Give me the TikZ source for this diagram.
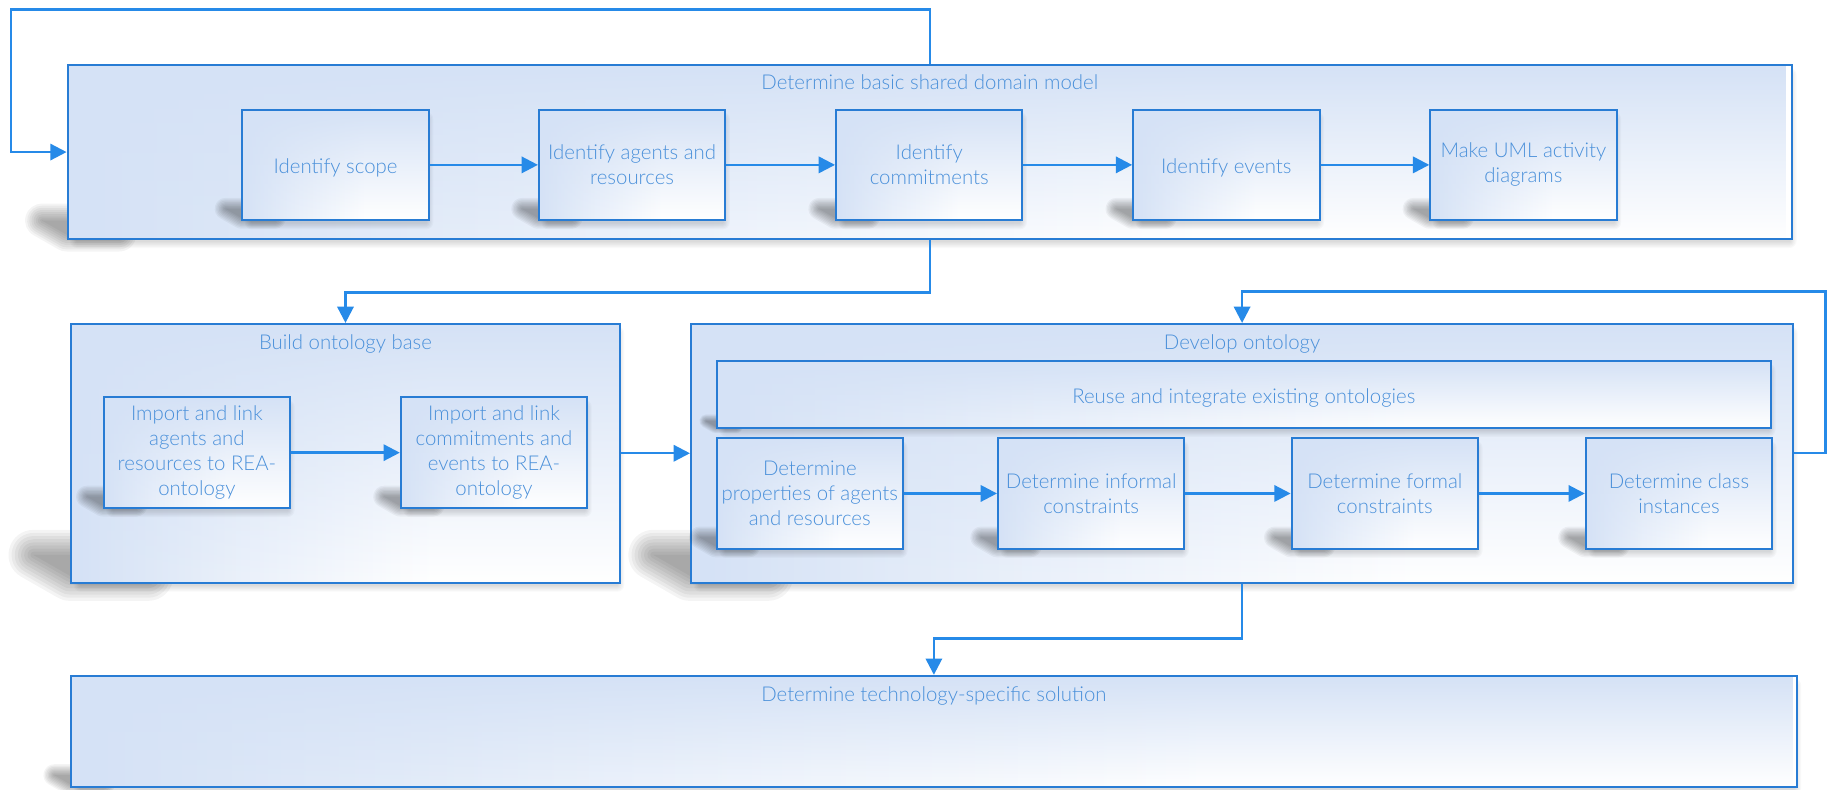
\documentclass[tikz,border=0pt]{standalone}
\usepackage{fontspec}
\IfFontExistsTF{Lato Light}{\setmainfont{Lato Light}}{\setmainfont{Lato}}
\usetikzlibrary{arrows.meta,calc,fadings}

\definecolor{edgeblue}{RGB}{40,124,212}
\definecolor{flowblue}{RGB}{38,138,232}
\definecolor{textblue}{RGB}{74,144,218}
\definecolor{paleblue}{RGB}{213,226,246}

% horizontal wash: pale blue on the left, white on the right
\pgfdeclarehorizontalshading{panelshade}{100bp}{color(0bp)=(paleblue); color(25bp)=(paleblue); color(40bp)=(paleblue!50!white); color(58bp)=(white); color(100bp)=(white)}
% pale blue glow along the upper edge
\tikzfading[name=topglow, top color=transparent!0, middle color=transparent!100, bottom color=transparent!100]

\newcommand\panelfont{\fontsize{17.5pt}{21.5pt}\selectfont}

\pgfdeclarelayer{canvasbg}
\pgfdeclarelayer{outershade}
\pgfdeclarelayer{outerbox}
\pgfdeclarelayer{innershade}
\pgfsetlayers{canvasbg,outershade,outerbox,innershade,main}

% soft shadow falling to the lower left of a box, plus a faint one below it
\newcommand\castshade[1]{%
  \path (#1.south west); \pgfgetlastxy{\shX}{\shY}%
  \path (#1.north east); \pgfgetlastxy{\shR}{\shT}%
  \pgfmathsetmacro\shH{\shT-\shY}%
  \pgfmathsetmacro\pxL{\shX-0.14*\shH}%
  \pgfmathsetmacro\pxR{\shX+0.30*\shH}%
  \pgfmathsetmacro\pyT{\shY+0.11*\shH}%
  \pgfmathsetmacro\pyB{\shY+0.03*\shH}%
  \pgfmathsetmacro\blr{0.024*\shH}%
  \foreach \k in {0,...,8}{%
    \begin{scope}[transparency group, opacity=0.042]
      \filldraw[black, line join=round, line width=\k*\blr pt+0.1pt] (\pxL pt,\pyT pt) -- (\pxR pt,\pyT pt) -- (\pxR pt,\pyB pt) -- (\shX,\pyB pt) -- cycle;
    \end{scope}
  }%
  \pgfmathsetmacro\qxL{\shX+9}%
  \pgfmathsetmacro\qxR{\shR-3}%
  \pgfmathsetmacro\qyB{\shY-1}%
  \pgfmathsetmacro\qyT{\shT-9}%
  \foreach \k in {1,...,6}{%
    \begin{scope}[transparency group, opacity=0.022]
      \filldraw[black, line join=round, line width=\k*2pt] (\qxL pt,\qyB pt) rectangle (\qxR pt,\qyT pt);
    \end{scope}
  }%
}

\tikzset{
  panel/.style={draw=edgeblue, line width=1.7pt, shade, shading=panelshade, inner sep=0pt,
    path picture={\fill[paleblue, path fading=topglow] (path picture bounding box.south west) rectangle (path picture bounding box.north east);},
    text=textblue, align=center, font=\panelfont},
  % a tall invisible strut on the first line centres the lettering optically
  lettered/.style={panel, execute at begin node={\rule{0pt}{18pt}}},
  stepbox/.style={lettered, minimum width=160pt, minimum height=95pt},
  heading/.style={text=textblue, font=\panelfont, inner sep=0pt},
  flow/.style={draw=flowblue, line width=2.1pt, -{Triangle[length=14pt,width=14pt]}}
}

\begin{document}
\begin{tikzpicture}[x=1pt,y=-1pt]
\useasboundingbox (0,0) rectangle (1568,678);
\begin{pgfonlayer}{canvasbg}
  \fill[white] (0,0) rectangle (1568,678);
\end{pgfonlayer}

% phases
\begin{pgfonlayer}{outerbox}
  \node[panel, minimum width=1480pt, minimum height=149pt] (box1) at (798,130.5) {};
  \node[panel, minimum width=471pt, minimum height=222pt] (box2) at (296.5,389) {};
  \node[panel, minimum width=946pt, minimum height=222pt] (box3) at (1066,389) {};
  \node[panel, minimum width=1481pt, minimum height=95pt] (box4) at (801.5,627.5) {};
\end{pgfonlayer}
\begin{pgfonlayer}{outershade}
  \castshade{box1}\castshade{box2}\castshade{box3}\castshade{box4}
\end{pgfonlayer}

\node[heading, anchor=base] (t1) at (798,76.7) {Determine basic shared domain model};
\node[heading, anchor=base] (t2) at (296.5,299.8) {Build ontology base};
\node[heading, anchor=base] (t3) at (1066,299.8) {Develop ontology};
\node[heading, anchor=base] (t4) at (801.5,602) {Determine technology-specific solution};

% steps of the domain model
\node[stepbox] (scope) at (288,141.5) {Identify scope};
\node[stepbox] (agents) at (542.5,141.5) {Identify agents and\\resources};
\node[stepbox] (commit) at (797.5,141.5) {Identify\\commitments};
\node[stepbox] (events) at (1052.5,141.5) {Identify events};
\node[stepbox] (uml) at (1307.5,141.5) {Make UML activity\\diagrams};

% steps of the ontology base
\node[stepbox] (linkA) at (169,388.5) {Import and link\\agents and\\resources to REA-\\ontology};
\node[stepbox] (linkB) at (424,388.5) {Import and link\\commitments and\\events to REA-\\ontology};

% steps of the ontology development
\node[lettered, minimum width=905pt, minimum height=57pt] (reuse) at (1067.5,338.5) {Reuse and integrate existing ontologies};
\node[stepbox] (props) at (695,423.5) {Determine\\properties of agents\\and resources};
\node[stepbox] (informal) at (936.5,423.5) {Determine informal\\constraints};
\node[stepbox] (formal) at (1188.5,423.5) {Determine formal\\constraints};
\node[stepbox] (inst) at (1441,423.5) {Determine class\\instances};

\begin{pgfonlayer}{innershade}
  \castshade{scope}\castshade{agents}\castshade{commit}\castshade{events}\castshade{uml}
  \castshade{linkA}\castshade{linkB}
  \castshade{reuse}\castshade{props}\castshade{informal}\castshade{formal}\castshade{inst}
\end{pgfonlayer}

% connectors
\coordinate (c1) at (9.5,8);
\coordinate (c2) at (296.5,251);
\coordinate (c3) at (1566.5,250);
\coordinate (c4) at (801.5,548);

\draw[flow] (box1.north) |- (c1) |- (box1.west);
\draw[flow] (scope.east) -- (agents.west);
\draw[flow] (agents.east) -- (commit.west);
\draw[flow] (commit.east) -- (events.west);
\draw[flow] (events.east) -- (uml.west);

\draw[flow] (box1.south) |- (c2) -- (box2.north);
\draw[flow] (linkA.east) -- (linkB.west);
\draw[flow] (box2.east) -- (box3.west);

\draw[flow] (box3.east) -| (c3) -| (box3.north);
\draw[flow] (props.east) -- (informal.west);
\draw[flow] (informal.east) -- (formal.west);
\draw[flow] (formal.east) -- (inst.west);

\draw[flow] (box3.south) |- (c4) -- (box4.north);
\end{tikzpicture}
\end{document}
